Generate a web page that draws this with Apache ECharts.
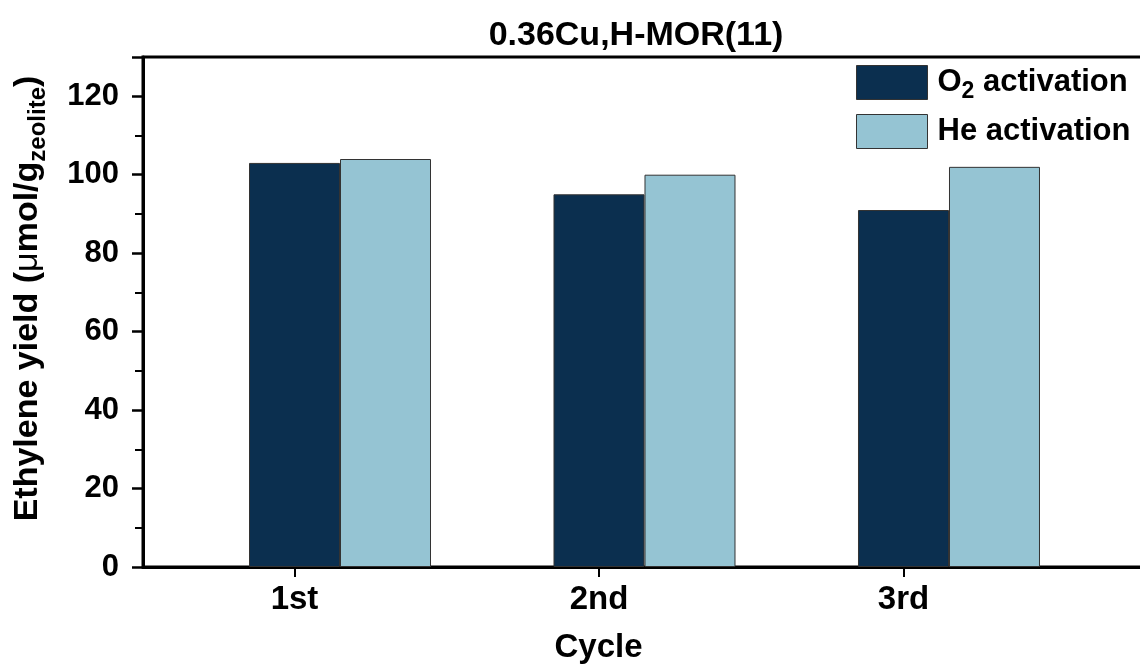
<!DOCTYPE html>
<html>
<head>
<meta charset="utf-8">
<script src="https://cdn.jsdelivr.net/npm/echarts@6/dist/echarts.min.js"></script>
<style>
  html, body { margin: 0; padding: 0; background: #fff; }
  #chart { width: 1140px; height: 664px; }
</style>
</head>
<body>
<div id="chart"></div>
<script>
// Ethylene yield per activation cycle, 0.36Cu,H-MOR(11)
const cycles = ['1st', '2nd', '3rd'];
const seriesNames = ['O2 activation', 'He activation'];
const o2Yield = [103, 95, 91];
const heYield = [104, 100, 102];

const FONT = '"Liberation Sans", Arial, sans-serif';
const BAR_PX = 91;            // width of one bar in pixels
const UNIT_PX = 304.5;        // pixels per cycle on the x scale
const tickShift = -(BAR_PX / 2) / UNIT_PX;   // cycle ticks sit under the O2 bar
const tickValues = cycles.map((c, i) => i + 1 + tickShift);

const chart = echarts.init(document.getElementById('chart'), null, { renderer: 'canvas' });

const legendLabels = {
  'O2 activation': '{a|O}{s|2}{a| activation}',
  'He activation': '{a|He activation}'
};

chart.setOption({
  animation: false,
  backgroundColor: '#fff',
  title: {
    text: '0.36Cu,H-MOR(11)',
    left: 631,
    top: 14,
    textAlign: 'center',
    textStyle: { fontFamily: FONT, fontSize: 34, fontWeight: 'bold', color: '#000' }
  },
  grid: {
    left: 143, top: 57, right: -20, bottom: 97,
    containLabel: false,
    outerBoundsMode: 'none',
    show: true, borderColor: '#000', borderWidth: 3, backgroundColor: 'transparent'
  },
  legend: {
    orient: 'vertical',
    left: 856, top: 62,
    padding: 0,
    itemWidth: 71, itemHeight: 34, itemGap: 11,
    icon: 'rect',
    itemStyle: { borderColor: '#333', borderWidth: 1 },
    data: seriesNames,
    formatter: name => legendLabels[name],
    textStyle: {
      padding: [0, 0, 0, 5],
      rich: {
        a: { fontFamily: FONT, fontSize: 31, fontWeight: 'bold', color: '#000', lineHeight: 34 },
        s: { fontFamily: FONT, fontSize: 23, fontWeight: 'bold', color: '#000', lineHeight: 23, padding: [18, 0, 0, 0] }
      }
    }
  },
  xAxis: {
    type: 'value',
    min: 0.353, max: 3.693,
    axisLine: { show: true, lineStyle: { color: '#000', width: 3 } },
    axisTick: { show: true, length: 10, customValues: tickValues, lineStyle: { color: '#000', width: 2 } },
    axisLabel: {
      customValues: tickValues,
      formatter: v => cycles[Math.round(v - tickShift) - 1],
      fontFamily: FONT, fontSize: 33, fontWeight: 'bold', color: '#000', margin: 16
    },
    splitLine: { show: false },
    name: 'Cycle',
    nameLocation: 'middle',
    nameGap: 64,
    nameTextStyle: { fontFamily: FONT, fontSize: 33, fontWeight: 'bold', color: '#000', padding: [0, 106, 0, 0] }
  },
  yAxis: {
    type: 'value',
    min: 0, max: 130, interval: 20,
    axisLine: { show: true, lineStyle: { color: '#000', width: 3 } },
    axisTick: { show: true, length: 11, lineStyle: { color: '#000', width: 2.5 } },
    minorTick: { show: true, splitNumber: 2, length: 8, lineStyle: { color: '#000', width: 2 } },
    axisLabel: { fontFamily: FONT, fontSize: 31, fontWeight: 'bold', color: '#000', margin: 24, showMaxLabel: false },
    splitLine: { show: false },
    minorSplitLine: { show: false },
    name: '{a|Ethylene yield (}{m|μ}{a|mol/g}{s|zeolite}{a|)}',
    nameLocation: 'middle',
    nameRotate: 90,
    nameGap: 98,
    nameTextStyle: {
      padding: [0, 0, 0, 27],
      rich: {
        a: { fontFamily: FONT, fontSize: 34, fontWeight: 'bold', color: '#000', lineHeight: 34 },
        m: { fontFamily: FONT, fontSize: 34, fontWeight: 'normal', color: '#000', lineHeight: 34 },
        s: { fontFamily: FONT, fontSize: 24, fontWeight: 'bold', color: '#000', lineHeight: 24, padding: [21, 0, 0, 0] }
      }
    }
  },
  series: [
    {
      name: seriesNames[0],
      type: 'bar',
      barWidth: BAR_PX,
      barGap: '0%',
      itemStyle: { color: '#0b2f4f', borderColor: '#333', borderWidth: 1 },
      data: o2Yield.map((v, i) => [i + 1, v])
    },
    {
      name: seriesNames[1],
      type: 'bar',
      barWidth: BAR_PX,
      barGap: '0%',
      itemStyle: { color: '#95c4d3', borderColor: '#333', borderWidth: 1 },
      data: heYield.map((v, i) => [i + 1, v])
    }
  ]
});
</script>
</body>
</html>
